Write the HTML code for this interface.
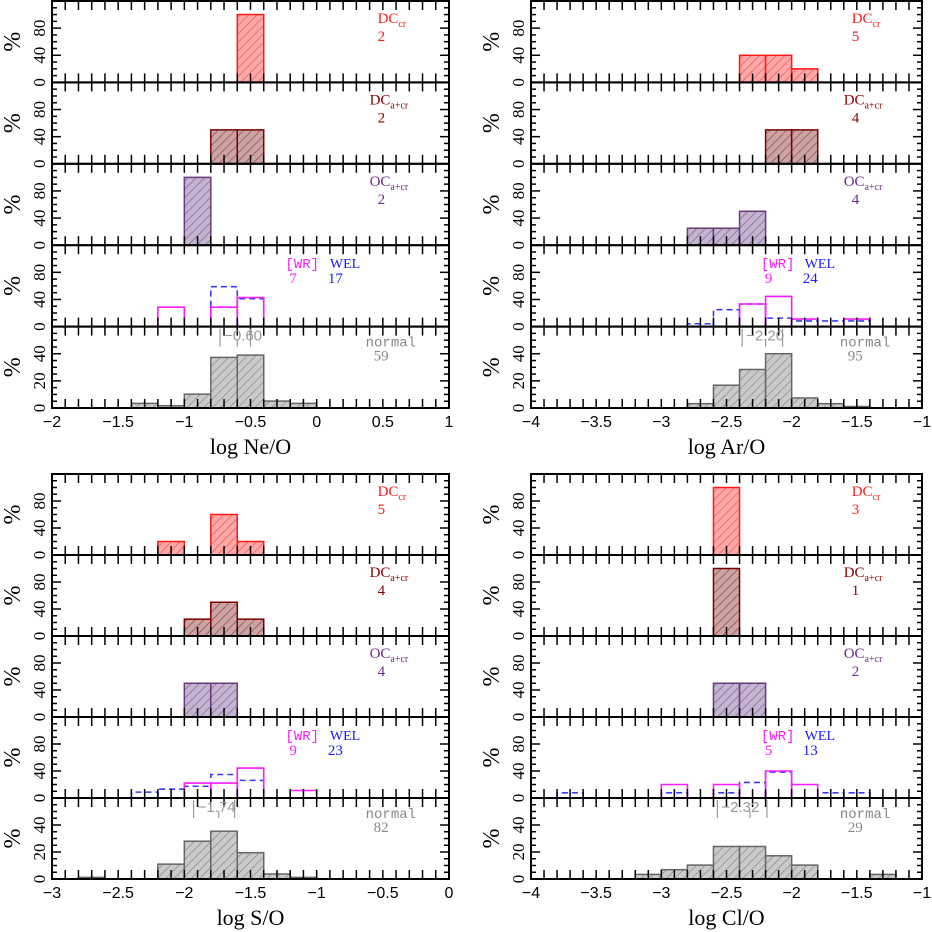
<!DOCTYPE html>
<html><head><meta charset="utf-8">
<style>
html,body{margin:0;padding:0;background:#fff;}
svg{display:block;}
</style></head>
<body>
<svg id="chart" width="932" height="932" viewBox="0 0 932 932" xmlns="http://www.w3.org/2000/svg" font-family="Liberation Sans, sans-serif">
<defs>
<pattern id="hatch-red" width="6" height="6" patternUnits="userSpaceOnUse" patternTransform="rotate(45)"><rect width="6" height="6" fill="#ffa8a8"/><line x1="0" y1="0" x2="0" y2="6" stroke="#e85050" stroke-width="1.3"/></pattern>
<pattern id="hatch-brown" width="6" height="6" patternUnits="userSpaceOnUse" patternTransform="rotate(45)"><rect width="6" height="6" fill="#cca4a4"/><line x1="0" y1="0" x2="0" y2="6" stroke="#8a4040" stroke-width="1.3"/></pattern>
<pattern id="hatch-purple" width="6" height="6" patternUnits="userSpaceOnUse" patternTransform="rotate(45)"><rect width="6" height="6" fill="#c4b4d0"/><line x1="0" y1="0" x2="0" y2="6" stroke="#7a5a8a" stroke-width="1.3"/></pattern>
<pattern id="hatch-gray" width="6" height="6" patternUnits="userSpaceOnUse" patternTransform="rotate(45)"><rect width="6" height="6" fill="#cacaca"/><line x1="0" y1="0" x2="0" y2="6" stroke="#858585" stroke-width="1.3"/></pattern>
</defs>
</svg>
<script>
// ---- data ----
const neBins = [-1.4,-1.2,-1.0,-0.8,-0.6,-0.4,-0.2];
const neDCcr = [0,0,0,0,100,0,0];
const neDCacr = [0,0,0,50,50,0,0];
const neOC = [0,0,100,0,0,0,0];
const neWR = [0,28.6,0,28.6,42.9,0,0];
const neWEL = [0,0,0,58.8,41.2,0,0];
const neNormal = [3.4,1.7,10.2,37.3,39,5.1,3.4];
const neCounts = [2,2,2,7,17,59];
const neMedian = [-0.60,-0.73,-0.50];

const arBins = [-2.8,-2.6,-2.4,-2.2,-2.0,-1.8,-1.6];
const arDCcr = [0,0,40,40,20,0,0];
const arDCacr = [0,0,0,50,50,0,0];
const arOC = [25,25,50,0,0,0,0];
const arWR = [0,0,33.3,44.4,11.1,0,11.1];
const arWEL = [4.2,25,33.3,12.5,8.3,8.3,8.3];
const arNormal = [3.2,16.8,28.4,40,7.4,3.2,1.1];
const arCounts = [5,4,4,9,24,95];
const arMedian = [-2.20,-2.38,-2.07];

const sBins = [-2.8,-2.6,-2.4,-2.2,-2.0,-1.8,-1.6,-1.4,-1.2];
const sDCcr = [0,0,0,20,0,60,20,0,0];
const sDCacr = [0,0,0,0,25,50,25,0,0];
const sOC = [0,0,0,0,50,50,0,0,0];
const sWR = [0,0,0,0,22.2,22.2,44.4,0,11.1];
const sWEL = [0,0,8.7,13,17.4,34.8,26.1,0,0];
const sNormal = [1.2,0,0,11,28,35.4,19.5,3.7,1.2];
const sCounts = [5,4,4,9,23,82];
const sMedian = [-1.74,-1.93,-1.62];

const clBins = [-3.8,-3.6,-3.4,-3.2,-3.0,-2.8,-2.6,-2.4,-2.2,-2.0,-1.8,-1.6,-1.4,-1.2];
const clDCcr = [0,0,0,0,0,0,100,0,0,0,0,0,0,0];
const clDCacr = [0,0,0,0,0,0,100,0,0,0,0,0,0,0];
const clOC = [0,0,0,0,0,0,50,50,0,0,0,0,0,0];
const clWR = [0,0,0,0,20,0,20,0,40,20,0,0,0,0];
const clWEL = [7.7,0,0,0,7.7,0,7.7,23.1,38.5,0,7.7,7.7,0,0];
const clNormal = [0,0,0,3.4,6.9,10.3,24.1,24.1,17.2,10.3,0,0,3.4,0];
const clCounts = [3,1,2,5,13,29];
const clMedian = [-2.32,-2.57,-2.19];

const xTickLabelsNe = ["-2","-1.5","-1","-0.5","0","0.5","1"];
const xTickLabelsAr = ["-4","-3.5","-3","-2.5","-2","-1.5","-1"];
const xTickLabelsS = ["-3","-2.5","-2","-1.5","-1","-0.5","0"];
const xTickLabelsCl = ["-4","-3.5","-3","-2.5","-2","-1.5","-1"];
const binWidth = 0.2;

// ---- drawing ----
const svg = document.getElementById('chart');
const NS = 'http://www.w3.org/2000/svg';
const SERIF = 'Liberation Serif, serif';
const MONO = 'Liberation Mono, monospace';
function mk(tag, attrs, parent){
  const e = document.createElementNS(NS, tag);
  for (const k in attrs) e.setAttribute(k, attrs[k]);
  (parent||svg).appendChild(e);
  return e;
}
function txt(s, x, y, size, fill, parent, anchor, rot){
  const t = mk('text', {x:x, y:y, 'font-size':size, fill:fill, 'text-anchor':anchor||'start'}, parent);
  if (rot) t.setAttribute('transform', 'rotate(-90 '+x+' '+y+')');
  t.textContent = s;
  return t;
}

const groups = [
  {id:'ne', left:52, right:449, top:1, bottom:408, xmin:-2, xmax:1, title:'log Ne/O', bins:neBins, series:[neDCcr,neDCacr,neOC,neWR,neWEL,neNormal], counts:neCounts, median:neMedian, ticks:xTickLabelsNe},
  {id:'ar', left:531, right:922, top:1, bottom:408, xmin:-4, xmax:-1, title:'log Ar/O', bins:arBins, series:[arDCcr,arDCacr,arOC,arWR,arWEL,arNormal], counts:arCounts, median:arMedian, ticks:xTickLabelsAr},
  {id:'s', left:52, right:449, top:474, bottom:879, xmin:-3, xmax:0, title:'log S/O', bins:sBins, series:[sDCcr,sDCacr,sOC,sWR,sWEL,sNormal], counts:sCounts, median:sMedian, ticks:xTickLabelsS},
  {id:'cl', left:531, right:922, top:474, bottom:879, xmin:-4, xmax:-1, title:'log Cl/O', bins:clBins, series:[clDCcr,clDCacr,clOC,clWR,clWEL,clNormal], counts:clCounts, median:clMedian, ticks:xTickLabelsCl}
];

groups.forEach(function(G){
  const g = mk('g', {});
  
  
  const W = G.right - G.left;
  const ph = (G.bottom - G.top) / 5;
  const xs = function(v){ return G.left + (v - G.xmin) / (G.xmax - G.xmin) * W; };

  for (let p = 0; p < 5; p++){
    const pt = G.top + p*ph, pb = pt + ph;
    const ymax = p === 4 ? 60 : 120;
    const ys = function(v){ return pb - v / ymax * ph; };
    const pg = mk('g', {}, g);
    
    

    if (p < 3) {
      const pat = ['hatch-red','hatch-brown','hatch-purple'][p];
      const stroke = ['#ff1a1a','#7a0000','#6a3a7a'][p];
      G.series[p].forEach(function(v, i){
        if (v <= 0) return;
        const x0 = xs(G.bins[i]), x1 = xs(G.bins[i] + binWidth);
        const r = mk('rect', {x:x0, y:ys(v), width:x1-x0, height:pb-ys(v), fill:'url(#'+pat+')', stroke:stroke, 'stroke-width':1.5}, pg);
        
        
      });
    }
    if (p === 4) {
      G.series[5].forEach(function(v, i){
        if (v <= 0) return;
        const x0 = xs(G.bins[i]), x1 = xs(G.bins[i] + binWidth);
        const r = mk('rect', {x:x0, y:ys(v), width:x1-x0, height:pb-ys(v), fill:'url(#hatch-gray)', stroke:'#666', 'stroke-width':1.5}, pg);
        
        
      });
    }
    if (p === 3) {
      [[G.series[4], '#3a3aff', '6,4'], [G.series[3], '#ff1aff', '']].forEach(function(s){
        s[0].forEach(function(v, i){
          if (v <= 0) return;
          const x0 = xs(G.bins[i]), x1 = xs(G.bins[i] + binWidth);
          const y = ys(v);
          const pl = mk('polyline', {points: x0+','+pb+' '+x0+','+y+' '+x1+','+y+' '+x1+','+pb, fill:'none', stroke:s[1], 'stroke-width':1.6, 'stroke-dasharray':s[2]}, pg);
          
          
        });
      });
    }

    const step = p === 4 ? 5 : 10, major = p === 4 ? 20 : 40;
    for (let v = 0; v <= ymax; v += step){
      const y = ys(v);
      const len = v % major === 0 ? 9 : 5;
      mk('line', {x1:G.left, y1:y, x2:G.left+len, y2:y, stroke:'#000', 'stroke-width':1.5}, pg);
      mk('line', {x1:G.right, y1:y, x2:G.right-len, y2:y, stroke:'#000', 'stroke-width':1.5}, pg);
      if (v % major === 0 && v < ymax){
        const tl = txt(String(v), G.left-7, y, 17, '#000', pg, 'middle', true);
        tl.setAttribute('font-family', SERIF);
        
        
      }
    }
    const yl = txt('%', G.left-32, pt+ph/2, 24, '#000', pg, 'middle', true);
    yl.setAttribute('font-family', SERIF);
    
    

    for (let k = 0; k <= Math.round((G.xmax-G.xmin)*10); k++){
      const x = xs(G.xmin + k*0.1);
      mk('line', {x1:x, y1:pb, x2:x, y2:pb-9, stroke:'#000', 'stroke-width':1.5}, pg);
      mk('line', {x1:x, y1:pt, x2:x, y2:pt+9, stroke:'#000', 'stroke-width':1.5}, pg);
    }
    mk('rect', {x:G.left, y:pt, width:W, height:ph, fill:'none', stroke:'#000', 'stroke-width':2}, pg);

    const lx = G.left + 0.81*W;
    if (p < 3){
      const col = ['#ff1a1a','#8b0000','#6a2a8a'][p];
      const main = ['DC','DC','OC'][p], sub = ['cr','a+cr','a+cr'][p];
      const t = mk('text', {x: p===0 ? lx+4 : lx-4, y:pt+22, 'font-size':15, fill:col, 'font-family':SERIF}, pg);
      
      
      t.textContent = main;
      const ts = mk('tspan', {dy:4, 'font-size':10}, t); ts.textContent = sub;
      const n = txt(String(G.counts[p]), lx+4, pt+40, 15, col, pg);
      n.setAttribute('font-family', SERIF);
      
      
    } else if (p === 3){
      const wx = G.left + 0.588*W, ex = G.left + 0.70*W;
      const a = txt('[WR]', wx, pt+23, 14, '#ff1aff', pg); a.setAttribute('font-family', MONO);
       
      const b = txt('WEL', ex, pt+23, 14, '#1a1aff', pg); b.setAttribute('font-family', SERIF);
       
      const c = txt(String(G.counts[3]), wx+4, pt+38, 15, '#ff1aff', pg); c.setAttribute('font-family', SERIF);
       
      const d = txt(String(G.counts[4]), ex-2, pt+38, 15, '#1a1aff', pg); d.setAttribute('font-family', SERIF);
       
    } else {
      const a = txt('normal', G.left + 0.79*W, pt+20, 14, '#888', pg); a.setAttribute('font-family', MONO);
       
      const b = txt(String(G.counts[5]), G.left + 0.81*W, pt+34, 15, '#888', pg); b.setAttribute('font-family', SERIF);
       
      const m = G.median;
      const mg = mk('g', {stroke:'#999', 'stroke-width':1.2}, pg);
      
      
      mk('line', {x1:xs(m[1]), y1:pt+2, x2:xs(m[1]), y2:pt+20}, mg);
      mk('line', {x1:xs(m[2]), y1:pt+2, x2:xs(m[2]), y2:pt+20}, mg);
      mk('line', {x1:xs(m[0]), y1:pt+13, x2:xs(m[0]), y2:pt+20}, mg);
      const mt = txt('\u2212' + Math.abs(m[0]).toFixed(2), xs(m[1])+4, pt+14, 15, '#999', pg);
      
      
    }
  }

  G.ticks.forEach(function(s, i){
    const v = G.xmin + i*0.5;
    const t = txt(s.replace('-', '\u2212'), xs(v), G.bottom + 19, 16, '#000', g, 'middle');
    
    
  });
  const tt = txt(G.title, (G.left+G.right)/2, G.bottom + 46, 22, '#000', g, 'middle');
  tt.setAttribute('font-family', SERIF);
  
  
});
</script>
</body></html>
